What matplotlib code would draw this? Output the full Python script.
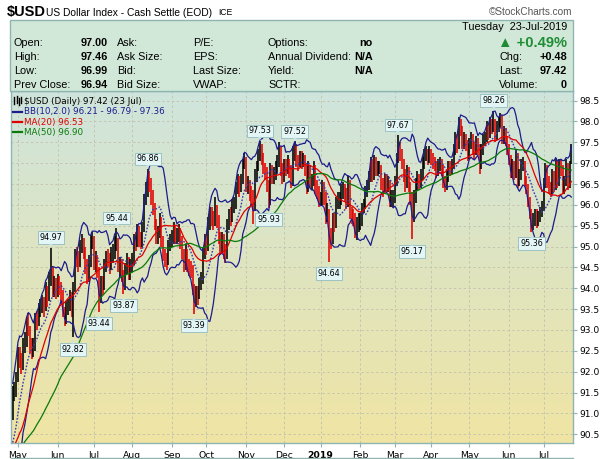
import numpy as np
import pandas as pd
import matplotlib
matplotlib.use("Agg")
import matplotlib.pyplot as plt
from matplotlib.patches import Rectangle
from matplotlib.lines import Line2D

W, H = 606, 459

# daily bars, 26-Apr-2018 .. 23-Jul-2019
closes = [
    91.45, 91.55, 91.85, 92.45, 92.30, 92.20, 92.55, 92.75, 93.10, 93.05,
    92.65, 92.55, 92.60, 93.25, 93.20, 93.45, 93.60, 93.65, 93.55, 93.95,
    93.80, 94.25, 94.45, 94.05, 94.10, 93.95, 94.15, 94.05, 93.90, 93.45,
    93.25, 93.55, 93.55, 93.80, 93.50, 94.00, 94.80, 94.75, 94.60, 95.00,
    95.10, 94.90, 94.55, 94.30, 94.60, 95.10, 95.20, 94.60, 94.70, 94.45,
    93.80, 94.10, 94.05, 94.55, 94.75, 94.70, 94.55, 94.80, 94.85, 95.10,
    95.15, 94.55, 94.55, 94.35, 94.10, 94.45, 94.65, 94.35, 94.55, 94.65,
    95.15, 95.10, 95.40, 95.15, 95.10, 95.40, 96.10, 96.35, 96.65, 96.55,
    96.20, 95.95, 95.55, 95.20, 95.30, 95.65, 95.15, 94.80, 94.70, 94.65,
    95.00, 95.15, 95.20, 95.40, 95.25, 95.25, 95.35, 95.15, 94.85, 94.55,
    94.90, 94.55, 94.50, 94.45, 94.00, 93.75, 93.90, 93.85, 94.10, 94.20,
    94.85, 95.15, 95.00, 95.55, 95.75, 95.70, 95.60, 95.90, 95.65, 95.20,
    95.00, 95.20, 94.90, 94.80, 95.50, 95.75, 95.70, 96.00, 96.00, 96.40,
    96.60, 96.40, 96.60, 96.95, 97.10, 96.45, 96.50, 96.30, 96.20, 95.95,
    96.70, 96.90, 97.20, 97.40, 97.15, 96.90, 96.80, 96.50, 96.05, 96.85,
    96.70, 96.70, 96.90, 97.00, 97.35, 96.85, 96.70, 96.95, 96.90, 97.00,
    96.85, 96.55, 97.25, 97.40, 97.05, 97.00, 97.15, 97.05, 97.10, 96.85,
    96.40, 96.90, 96.55, 96.55, 96.90, 96.40, 96.35, 96.15, 96.15, 96.45,
    96.20, 95.75, 95.85, 95.20, 95.15, 95.65, 95.55, 96.05, 96.10, 96.10,
    96.35, 96.35, 96.30, 96.05, 96.55, 95.80, 95.75, 95.70, 95.40, 95.55,
    95.60, 95.60, 95.90, 96.00, 96.30, 96.45, 96.65, 97.00, 96.70, 97.05,
    96.90, 96.90, 96.90, 96.50, 96.40, 96.60, 96.50, 96.50, 96.10, 96.15,
    96.15, 96.55, 97.10, 97.40, 97.25, 97.00, 96.75, 96.50, 96.80, 96.45,
    96.20, 95.70, 96.20, 96.50, 96.60, 96.55, 96.70, 97.00, 97.20, 97.25,
    97.10, 97.25, 97.10, 97.00, 96.95, 96.80, 96.95, 97.00, 96.85, 96.55,
    96.45, 96.65, 96.90, 96.85, 96.95, 97.30, 97.60, 97.40, 97.95, 97.85,
    97.50, 97.55, 97.45, 97.20, 97.45, 97.60, 97.35, 97.30, 97.50, 97.35,
    96.95, 97.30, 97.55, 97.60, 97.85, 97.70, 97.95, 97.85, 98.00, 97.65,
    97.85, 97.95, 98.10, 97.60, 97.75, 97.55, 97.35, 97.10, 96.80, 96.95,
    96.75, 97.20, 96.55, 96.70, 96.95, 97.00, 96.60, 96.40, 96.10, 95.80,
    95.55, 95.65, 95.75, 95.60, 95.70, 95.80, 95.95, 96.50, 96.85, 96.55,
    96.40, 96.35, 96.70, 96.45, 96.95, 96.55, 96.95, 96.85, 96.35, 96.55,
    96.95, 96.45, 96.94, 97.42,
]
highs = [
    91.65, 91.75, 92.00, 92.60, 92.60, 92.45, 92.80, 92.95, 93.30, 93.40,
    93.10, 92.80, 92.80, 93.40, 93.45, 93.65, 93.75, 93.85, 93.80, 94.15,
    94.05, 94.40, 94.97, 94.50, 94.30, 94.25, 94.35, 94.30, 94.15, 93.95,
    93.55, 93.70, 93.75, 93.95, 93.90, 94.15, 94.95, 95.00, 94.90, 95.15,
    95.30, 95.20, 95.00, 94.70, 94.80, 95.25, 95.35, 95.25, 94.90, 94.80,
    94.50, 94.30, 94.30, 94.70, 94.90, 94.95, 94.85, 95.00, 95.05, 95.25,
    95.44, 95.20, 94.75, 94.70, 94.45, 94.60, 94.85, 94.75, 94.70, 94.85,
    95.30, 95.35, 95.55, 95.50, 95.35, 95.60, 96.25, 96.55, 96.86, 96.80,
    96.65, 96.35, 96.05, 95.65, 95.50, 95.80, 95.70, 95.25, 94.95, 94.85,
    95.15, 95.30, 95.40, 95.60, 95.50, 95.45, 95.55, 95.45, 95.25, 94.95,
    95.05, 94.95, 94.70, 94.65, 94.55, 94.10, 94.05, 94.05, 94.25, 94.40,
    95.00, 95.30, 95.30, 95.70, 95.95, 95.95, 95.85, 96.20, 96.00, 95.75,
    95.35, 95.35, 95.30, 95.05, 95.65, 95.90, 95.95, 96.15, 96.20, 96.55,
    96.75, 96.70, 96.75, 97.10, 97.25, 97.15, 96.70, 96.60, 96.45, 96.35,
    96.85, 97.05, 97.35, 97.53, 97.45, 97.25, 97.00, 96.90, 96.60, 97.00,
    96.95, 96.90, 97.05, 97.20, 97.50, 97.40, 97.00, 97.10, 97.10, 97.20,
    97.10, 96.95, 97.40, 97.52, 97.45, 97.20, 97.30, 97.30, 97.25, 97.20,
    96.95, 97.05, 96.95, 96.75, 97.05, 96.95, 96.60, 96.45, 96.30, 96.60,
    96.55, 96.30, 96.05, 95.90, 95.45, 95.80, 95.80, 96.20, 96.30, 96.30,
    96.50, 96.55, 96.50, 96.40, 96.70, 96.60, 95.95, 95.90, 95.80, 95.70,
    95.80, 95.80, 96.05, 96.15, 96.45, 96.60, 96.80, 97.15, 97.10, 97.20,
    97.15, 97.05, 97.05, 96.95, 96.65, 96.75, 96.75, 96.70, 96.60, 96.35,
    96.35, 96.70, 97.25, 97.67, 97.50, 97.35, 97.10, 96.85, 96.95, 96.90,
    96.55, 96.30, 96.35, 96.65, 96.80, 96.75, 96.85, 97.15, 97.35, 97.40,
    97.35, 97.40, 97.35, 97.25, 97.15, 97.05, 97.10, 97.15, 97.10, 96.95,
    96.70, 96.80, 97.05, 97.05, 97.10, 97.45, 97.75, 97.70, 98.10, 98.05,
    97.90, 97.75, 97.70, 97.55, 97.60, 97.75, 97.70, 97.50, 97.65, 97.60,
    97.45, 97.45, 97.70, 97.75, 98.00, 97.95, 98.10, 98.05, 98.26, 98.05,
    98.00, 98.10, 98.20, 98.15, 97.90, 97.85, 97.65, 97.45, 97.20, 97.10,
    97.05, 97.35, 97.25, 96.85, 97.10, 97.15, 97.05, 96.70, 96.50, 96.20,
    95.90, 95.80, 95.90, 95.90, 95.85, 95.95, 96.10, 96.65, 97.00, 96.95,
    96.70, 96.55, 96.85, 96.80, 97.10, 97.05, 97.10, 97.10, 96.95, 96.70,
    97.10, 97.00, 97.05, 97.46,
]
lows = [
    90.85, 91.30, 91.40, 91.75, 92.10, 91.95, 92.05, 92.45, 92.60, 92.85,
    92.45, 92.30, 92.35, 92.50, 93.00, 93.10, 93.30, 93.40, 93.30, 93.45,
    93.55, 93.70, 94.05, 93.80, 93.80, 93.75, 93.80, 93.85, 93.70, 93.30,
    93.10, 93.15, 93.35, 93.45, 93.30, 92.82, 93.90, 94.50, 94.40, 94.50,
    94.85, 94.70, 94.35, 94.10, 94.15, 94.50, 94.95, 94.45, 94.40, 94.25,
    93.44, 93.65, 93.85, 93.95, 94.40, 94.50, 94.35, 94.45, 94.60, 94.70,
    94.90, 94.40, 94.30, 94.15, 93.87, 93.95, 94.35, 94.20, 94.20, 94.40,
    94.55, 94.90, 95.00, 95.00, 94.95, 95.00, 95.35, 96.00, 96.20, 96.30,
    96.00, 95.75, 95.40, 95.05, 95.05, 95.20, 95.00, 94.65, 94.50, 94.45,
    94.55, 94.90, 95.00, 95.05, 95.05, 95.05, 95.10, 94.95, 94.70, 94.40,
    94.45, 94.40, 94.30, 94.25, 93.85, 93.39, 93.55, 93.60, 93.75, 93.95,
    94.10, 94.70, 94.80, 94.90, 95.40, 95.50, 95.40, 95.50, 95.45, 95.05,
    94.80, 94.85, 94.70, 94.60, 94.70, 95.40, 95.50, 95.60, 95.80, 95.90,
    96.25, 96.20, 96.30, 96.50, 96.85, 96.30, 96.25, 96.10, 96.00, 95.55,
    95.85, 96.55, 96.80, 97.05, 96.95, 96.75, 96.60, 96.30, 95.93, 96.00,
    96.50, 96.50, 96.60, 96.75, 96.90, 96.70, 96.50, 96.55, 96.70, 96.75,
    96.65, 96.40, 96.45, 97.05, 96.90, 96.80, 96.90, 96.85, 96.90, 96.70,
    96.25, 96.30, 96.40, 96.35, 96.45, 96.25, 96.15, 95.95, 96.00, 96.00,
    96.00, 95.55, 95.60, 94.64, 94.95, 95.05, 95.35, 95.45, 95.90, 95.90,
    96.00, 96.15, 96.10, 95.90, 95.95, 95.65, 95.55, 95.50, 95.20, 95.15,
    95.35, 95.40, 95.50, 95.80, 95.90, 96.20, 96.35, 96.55, 96.55, 96.60,
    96.70, 96.70, 96.75, 96.35, 96.20, 96.30, 96.30, 96.30, 95.95, 95.95,
    95.95, 96.05, 96.45, 97.00, 97.05, 96.85, 96.55, 96.30, 96.40, 96.30,
    96.00, 95.17, 95.60, 96.05, 96.35, 96.35, 96.40, 96.60, 96.85, 97.05,
    96.95, 97.00, 96.95, 96.85, 96.80, 96.65, 96.70, 96.80, 96.70, 96.40,
    96.30, 96.35, 96.55, 96.70, 96.75, 96.85, 97.20, 97.25, 97.35, 97.65,
    97.35, 97.35, 97.30, 97.05, 97.10, 97.35, 97.20, 97.10, 97.20, 97.20,
    96.75, 96.85, 97.20, 97.40, 97.50, 97.55, 97.60, 97.70, 97.75, 97.50,
    97.55, 97.75, 97.85, 97.45, 97.45, 97.40, 97.20, 96.95, 96.65, 96.65,
    96.60, 96.65, 96.40, 96.45, 96.60, 96.80, 96.45, 96.25, 95.95, 95.65,
    95.36, 95.40, 95.50, 95.45, 95.50, 95.60, 95.70, 95.85, 96.40, 96.40,
    96.25, 96.20, 96.25, 96.30, 96.35, 96.40, 96.45, 96.70, 96.25, 96.25,
    96.45, 96.35, 96.40, 96.99,
]
# closes before the visible window, only needed to start the averages
warmup_closes = [
    89.25, 88.60, 89.05, 89.10, 89.70, 90.00, 89.70, 89.85, 89.60, 90.30, 90.60,
    90.00, 89.95, 89.90, 89.60, 89.60, 90.15, 90.10, 89.90, 89.60, 89.55, 89.95,
    90.25, 89.90, 90.35, 89.80, 89.65, 89.45, 88.95, 89.40, 90.10, 90.15, 90.10,
    90.10, 90.55, 90.25, 90.50, 90.10, 89.80, 89.55, 89.60, 89.75, 89.80, 89.55,
    89.50, 89.60, 89.80, 90.30, 90.90, 90.90, 91.20,
]

# bars that carry a price flag
peak_idx = [22, 60, 78, 143, 163, 223, 278]
trough_idx = [35, 50, 64, 105, 148, 183, 231, 300]

yticks = [90.5, 91.0, 91.5, 92.0, 92.5, 93.0, 93.5, 94.0, 94.5,
          95.0, 95.5, 96.0, 96.5, 97.0, 97.5, 98.0, 98.5]

header_left = [("Open:", "97.00"), ("High:", "97.46"), ("Low:", "96.99"), ("Prev Close:", "96.94")]
header_col2 = ["Ask:", "Ask Size:", "Bid:", "Bid Size:"]
header_col3 = ["P/E:", "EPS:", "Last Size:", "VWAP:"]
header_col4 = [("Options:", "no"), ("Annual Dividend:", "N/A"), ("Yield:", "N/A"), ("SCTR:", "")]
header_right = [("Chg:", "+0.48"), ("Last:", "97.42"), ("Volume:", "0")]

legend_rows = [
    ("$USD (Daily) 97.42 (23 Jul)", "black", None),
    ("BB(10,2.0) 96.21 - 96.79 - 97.36", "#1c1c8c", "#1c1c8c"),
    ("MA(20) 96.53", "#e00000", "#e00000"),
    ("MA(50) 96.90", "#0a7a0a", "#0a7a0a"),
]

n = len(closes)
dates = pd.bdate_range(end="2019-07-23", periods=n)
x = np.arange(n)

s = pd.Series(warmup_closes + closes)
ma10 = s.rolling(10).mean()
sd10 = s.rolling(10).std(ddof=0)
bb_up = (ma10 + 2 * sd10).values[len(warmup_closes):]
bb_lo = (ma10 - 2 * sd10).values[len(warmup_closes):]
bb_mid = ma10.values[len(warmup_closes):]
ma20 = s.rolling(20).mean().values[len(warmup_closes):]
ma50 = s.rolling(50).mean().values[len(warmup_closes):]

prev = [warmup_closes[-1]] + closes[:-1]
bar_cols = ["black" if c >= p else "#e00000" for c, p in zip(closes, prev)]

fig = plt.figure(figsize=(W / 100, H / 100), dpi=100)
fig.patch.set_facecolor("white")

def fx(px):
    return px / W

def fy(py):
    return 1 - py / H

edge = "#8fb5b0"
ax = fig.add_axes([fx(11), fy(443), fx(573) - fx(11), fy(91) - fy(443)])
x0, x1 = -1, n
y0, y1 = 90.29, 98.73
ax.set_xlim(x0, x1)
ax.set_ylim(y0, y1)

# background gradient
top = np.array([0.81, 0.895, 0.865])
bot = np.array([0.94, 0.895, 0.64])
t = np.linspace(0, 1, 256)[:, None, None]
img = top + (bot - top) * t
ax.imshow(img, extent=[x0, x1, y0, y1], aspect="auto", origin="upper", zorder=0)

# month ticks
month_pos = [i for i in range(1, n) if dates[i].month != dates[i - 1].month]
month_lab = ["2019" if dates[i].month == 1 else dates[i].strftime("%b") for i in month_pos]
ax.set_xticks(month_pos)
ax.set_xticklabels(month_lab)
for lbl in ax.get_xticklabels():
    if lbl.get_text() == "2019":
        lbl.set_fontweight("bold")
        lbl.set_fontsize(7.5)
ax.set_yticks(yticks)
ax.set_yticklabels([f"{v:.1f}" for v in yticks])
ax.yaxis.tick_right()
ax.tick_params(axis="y", length=3, color=edge, labelsize=6.6, pad=1.5, labelcolor="black")
ax.tick_params(axis="x", length=3, color=edge, labelsize=6.7, pad=2.5, labelcolor="black")
ax.grid(True, color="#c4c6b0", linestyle=(0, (2.5, 2.5)), linewidth=0.7, zorder=1)
for sp in ax.spines.values():
    sp.set_color(edge)
    sp.set_linewidth(1.0)

# price bars
ax.vlines(x, lows, highs, colors=bar_cols, linewidth=1.15, zorder=3)

# overlays
ax.plot(x, bb_up, color="#1c1c8c", lw=0.9, zorder=4)
ax.plot(x, bb_lo, color="#1c1c8c", lw=0.9, zorder=4)
ax.plot(x, bb_mid, color="#3a3aa8", lw=1.0, ls=(0, (1.2, 1.2)), zorder=4)
ax.plot(x, ma20, color="#e00000", lw=0.9, zorder=4)
ax.plot(x, ma50, color="#0a7a0a", lw=0.9, zorder=4)

# price flags
flag_box = dict(boxstyle="square,pad=0.22", fc="#e3f5f5", ec="#9cc2c2", lw=0.7)
for i in peak_idx:
    ax.annotate(f"{highs[i]:.2f}", xy=(i, highs[i]), xytext=(0, 7.3), textcoords="offset points",
                ha="center", va="center", fontsize=5.8, bbox=flag_box, zorder=6)
    ax.annotate("\u25bc", xy=(i, highs[i]), xytext=(0, 2.2), textcoords="offset points",
                ha="center", va="center", fontsize=3.5, color="#c8e6e6", zorder=6)
for i in trough_idx:
    ax.annotate(f"{lows[i]:.2f}", xy=(i, lows[i]), xytext=(0, -8.6), textcoords="offset points",
                ha="center", va="center", fontsize=5.8, bbox=flag_box, zorder=6)
    ax.annotate("\u25b2", xy=(i, lows[i]), xytext=(0, -2.8), textcoords="offset points",
                ha="center", va="center", fontsize=3.5, color="#c8e6e6", zorder=6)

# legend in the top-left corner
for k, (txt, col, lcol) in enumerate(legend_rows):
    yy = 101 + k * 10.5
    fig.text(fx(24), fy(yy), txt, color=col, fontsize=6.3, va="center", ha="left", zorder=7)
    if lcol is not None:
        fig.add_artist(Line2D([fx(13), fx(22)], [fy(yy), fy(yy)], color=lcol, lw=1.6,
                              transform=fig.transFigure))
# small bar-chart icon in front of the price row
for px, c, ytop, ybot in [(14, "black", 97, 104), (16.5, "black", 96, 103), (19, "black", 98, 105), (21, "black", 97, 103)]:
    fig.add_artist(Line2D([fx(px), fx(px)], [fy(ytop), fy(ybot)], color=c, lw=1.0,
                          transform=fig.transFigure))

# title line
hfont = ["Liberation Sans", "DejaVu Sans"]
fig.text(fx(7), fy(12), "$USD", fontsize=10.5, fontweight="bold", family=hfont, va="center")
fig.text(fx(46), fy(12.5), "US Dollar Index - Cash Settle (EOD)", fontsize=7.4, family=hfont, va="center")
fig.text(fx(218), fy(12.5), "ICE", fontsize=6.2, family=hfont, va="center")
fig.text(fx(572), fy(12), "\u00a9StockCharts.com", fontsize=7.2, color="#555555",
         family=hfont, va="center", ha="right")

# quote box
fig.add_artist(Rectangle((fx(10), fy(91)), fx(573) - fx(10), fy(20) - fy(91),
                         transform=fig.transFigure, fc="#d1e8d9", ec=edge, lw=1.0))
rows_y = [43, 57, 71, 85]
fs = 7.8
for (lab, val), yy in zip(header_left, rows_y):
    fig.text(fx(14), fy(yy), lab, fontsize=fs, family=hfont, va="center")
    fig.text(fx(108), fy(yy), val, fontsize=fs, family=hfont, va="center", ha="right", fontweight="bold")
for lab, yy in zip(header_col2, rows_y):
    fig.text(fx(117), fy(yy), lab, fontsize=fs, family=hfont, va="center")
for lab, yy in zip(header_col3, rows_y):
    fig.text(fx(193), fy(yy), lab, fontsize=fs, family=hfont, va="center")
for (lab, val), yy in zip(header_col4, rows_y):
    fig.text(fx(268), fy(yy), lab, fontsize=fs, family=hfont, va="center")
    if val:
        fig.text(fx(373), fy(yy), val, fontsize=fs, family=hfont, va="center", ha="right", fontweight="bold")
fig.text(fx(567), fy(27), "Tuesday  23-Jul-2019", fontsize=fs, family=hfont, va="center", ha="right")
fig.text(fx(567), fy(43), "\u25b2 +0.49%", fontsize=10.5, family=hfont, color="#1e8c32",
         va="center", ha="right", fontweight="bold")
for (lab, val), yy in zip(header_right, rows_y[1:]):
    fig.text(fx(499), fy(yy), lab, fontsize=fs, family=hfont, va="center")
    fig.text(fx(567), fy(yy), val, fontsize=fs, family=hfont, va="center", ha="right", fontweight="bold")

fig.add_artist(Line2D([fx(11), fx(573)], [fy(458), fy(458)], color=edge, lw=1.0,
                      transform=fig.transFigure))

fig.savefig("out.png", dpi=100)
